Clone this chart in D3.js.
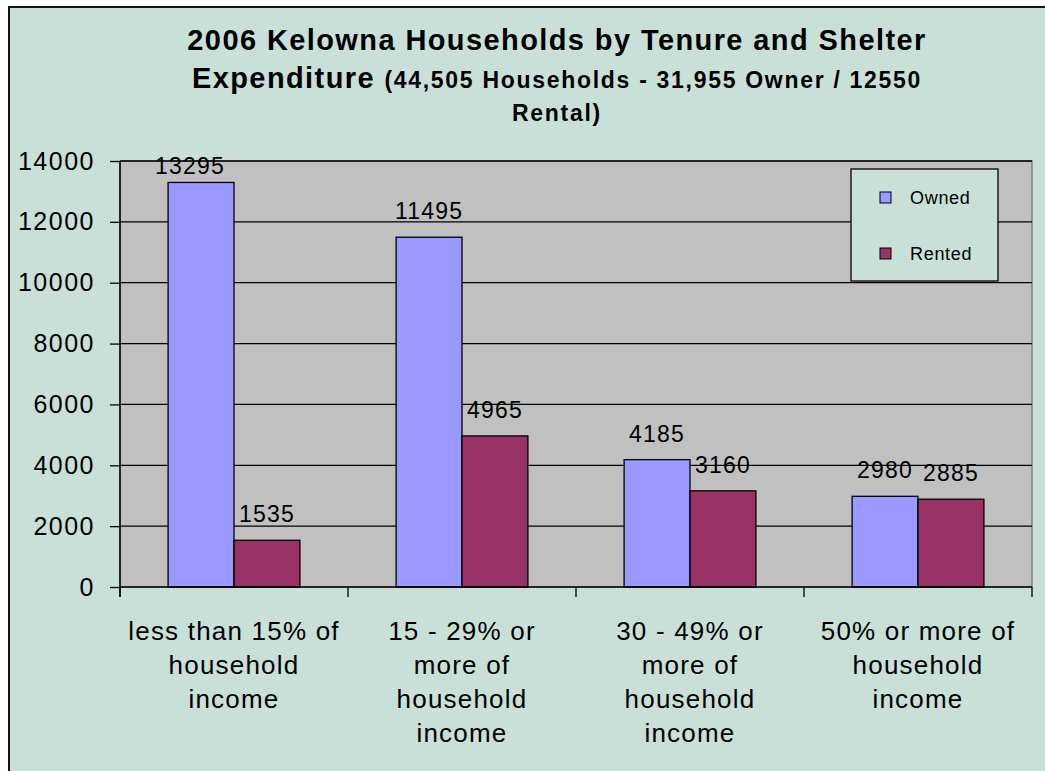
<!DOCTYPE html>
<html>
<head>
<meta charset="utf-8">
<script src="https://cdn.jsdelivr.net/npm/d3@7"></script>
<style>
	body { margin: 0; background: #ffffff; }
	svg { display: block; font-family: Arial, "Liberation Sans", sans-serif; }
</style>
</head>
<body>
<div class="graph-box"></div>
<script>
// chart data
var categories = [
	["less than 15% of", "household", "income"],
	["15 - 29% or", "more of", "household", "income"],
	["30 - 49% or", "more of", "household", "income"],
	["50% or more of", "household", "income"]
];
var owned = [13295, 11495, 4185, 2980];
var rented = [1535, 4965, 3160, 2885];
var seriesNames = ["Owned", "Rented"];
var seriesColors = ["#9999FF", "#993366"];
var yTicks = [0, 2000, 4000, 6000, 8000, 10000, 12000, 14000];


function drawChart() {
	var width = 1045, height = 771;
	var svg = d3.select(".graph-box")
			.append("svg")
			.attr("width", width)
			.attr("height", height);

	// chart background + frame
	svg.append("rect")
			.attr("x", 9).attr("y", 7)
			.attr("width", width + 10).attr("height", height + 10)
			.attr("fill", "#C9E0D9")
			.attr("stroke", "#111")
			.attr("stroke-width", 2);

	// title (3 lines, second one mixes two sizes)
	var title = svg.append("g").attr("text-anchor", "middle").attr("font-weight", "bold").attr("fill", "#000");
	title.append("text").attr("x", 557).attr("y", 50)
			.attr("font-size", 29)
			.attr("letter-spacing", 1.4)
			.text("2006 Kelowna Households by Tenure and Shelter");
	var t2 = title.append("text").attr("x", 557).attr("y", 88);
	t2.append("tspan").attr("font-size", 29).attr("letter-spacing", 1.4).text("Expenditure  ");
	t2.append("tspan").attr("font-size", 23).attr("letter-spacing", 1.7).text("(44,505 Households - 31,955 Owner / 12550");
	title.append("text").attr("x", 557).attr("y", 121)
			.attr("font-size", 23)
			.attr("letter-spacing", 1.7)
			.text("Rental)");

	var left = 120, right = 1032, top = 161, bottom = 587;

	var x = d3.scaleBand()
			.domain(d3.range(categories.length))
			.range([left, right]);
	var xSeries = d3.scaleBand()
			.domain(d3.range(seriesNames.length))
			.range([0, x.bandwidth()])
			.paddingOuter(0.73)
			.paddingInner(0);
	var y = d3.scaleLinear()
			.domain([0, 14000])
			.range([bottom, top]);

	// plot area
	svg.append("rect")
			.attr("x", left).attr("y", top)
			.attr("width", right - left).attr("height", bottom - top)
			.attr("fill", "#C0C0C0")
			.attr("stroke", "#808080")
			.attr("stroke-width", 1.5);

	// gridlines
	svg.append("g").selectAll("line")
			.data(yTicks.slice(1))
			.enter()
			.append("line")
			.attr("x1", left).attr("x2", right)
			.attr("y1", function(d) { return y(d); })
			.attr("y2", function(d) { return y(d); })
			.attr("stroke", "#000")
			.attr("stroke-width", 1.3);

	// y axis
	var yAxis = svg.append("g")
			.attr("transform", "translate(" + left + ",0)")
			.call(d3.axisLeft(y).tickValues(yTicks).tickSize(10).tickPadding(15).tickFormat(d3.format("d")));
	yAxis.select(".domain").attr("stroke", "#000").attr("stroke-width", 1.5)
			.attr("d", "M0," + top + "V" + (bottom + 10));
	yAxis.selectAll(".tick line").attr("stroke", "#000").attr("stroke-width", 1.3);
	yAxis.selectAll("text")
			.attr("font-size", 25)
			.attr("letter-spacing", 1.5)
			.attr("font-family", "Arial, 'Liberation Sans', sans-serif")
			.attr("fill", "#000");

	// bars
	var series = [owned, rented];
	var groups = svg.append("g").selectAll("g")
			.data(series)
			.enter()
			.append("g")
			.attr("fill", function(d, i) { return seriesColors[i]; });
	groups.each(function(vals, si) {
		var g = d3.select(this);
		g.selectAll("rect")
				.data(vals)
				.enter()
				.append("rect")
				.attr("x", function(d, ci) { return x(ci) + xSeries(si); })
				.attr("y", function(d) { return y(d); })
				.attr("width", xSeries.bandwidth())
				.attr("height", function(d) { return y(0) - y(d); })
				.attr("stroke", "#000")
				.attr("stroke-width", 1.3);
		// labels sit 18px above the bar, but get pushed back down (and a bit left) near the top
		g.selectAll("text")
				.data(vals)
				.enter()
				.append("text")
				.attr("x", function(d, ci) {
					var cx = x(ci) + xSeries(si) + xSeries.bandwidth() / 2;
					return y(d) - 18 < 174 ? cx - 11 : cx;
				})
				.attr("y", function(d) { return Math.max(y(d) - 18, 174); })
				.attr("text-anchor", "middle")
				.attr("font-size", 23)
				.attr("letter-spacing", 1.2)
				.attr("fill", "#000")
				.text(function(d) { return d; });
	});

	// x axis
	svg.append("line")
			.attr("x1", left).attr("x2", right)
			.attr("y1", bottom).attr("y2", bottom)
			.attr("stroke", "#000").attr("stroke-width", 1.5);
	var xTicks = d3.range(categories.length + 1).map(function(i) {
		return i < categories.length ? x(i) : right;
	});
	svg.append("g").selectAll("line")
			.data(xTicks)
			.enter()
			.append("line")
			.attr("x1", function(d) { return d; })
			.attr("x2", function(d) { return d; })
			.attr("y1", bottom).attr("y2", bottom + 10)
			.attr("stroke", "#000").attr("stroke-width", 1.3);

	var catLabels = svg.append("g").selectAll("text")
			.data(categories)
			.enter()
			.append("text")
			.attr("text-anchor", "middle")
			.attr("font-size", 26)
			.attr("letter-spacing", 1.2)
			.attr("fill", "#000");
	catLabels.each(function(lines, ci) {
		var t = d3.select(this);
		lines.forEach(function(line, li) {
			t.append("tspan")
					.attr("x", x(ci) + x.bandwidth() / 2)
					.attr("y", 640 + li * 34)
					.text(line);
		});
	});

	// legend
	var legend = svg.append("g");
	legend.append("rect")
			.attr("x", 851).attr("y", 169)
			.attr("width", 147).attr("height", 112)
			.attr("fill", "#C9E0D9")
			.attr("stroke", "#000")
			.attr("stroke-width", 1.3);
	seriesNames.forEach(function(name, i) {
		legend.append("rect")
				.attr("x", 880).attr("y", 192 + i * 56)
				.attr("width", 11).attr("height", 11)
				.attr("fill", seriesColors[i])
				.attr("stroke", "#000");
		legend.append("text")
				.attr("x", 910).attr("y", 204 + i * 56)
				.attr("font-size", 18)
				.attr("letter-spacing", 0.7)
				.attr("fill", "#000")
				.text(name);
	});
}

drawChart();
</script>
</body>
</html>
